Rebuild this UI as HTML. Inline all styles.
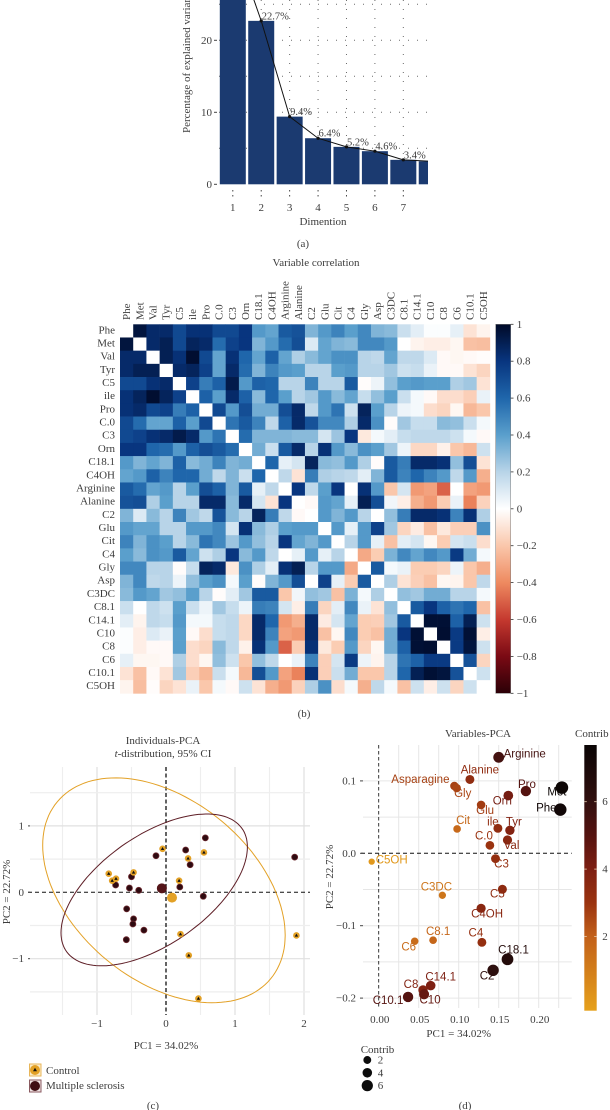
<!DOCTYPE html>
<html lang="en">
<head>
<meta charset="utf-8">
<title>PCA figure</title>
<style>
html,body{margin:0;padding:0;background:#fff;width:610px;height:1110px;overflow:hidden}
svg{display:block;filter:blur(0.35px)}
text{font-family:"Liberation Serif",serif;fill:#3c3c3c;font-size:11px}
.sans{font-family:"Liberation Sans",sans-serif}
</style>
</head>
<body>
<svg id="fig" xmlns="http://www.w3.org/2000/svg" width="610" height="1110" viewBox="0 0 610 1110">
  <defs>
    <clipPath id="clipA"><rect x="218" y="0" width="210" height="186"/></clipPath>
    <linearGradient id="gradB" x1="0" y1="0" x2="0" y2="1"></linearGradient>
    <linearGradient id="gradD" x1="0" y1="0" x2="0" y2="1"></linearGradient>
  </defs>
  <g id="panelA">
    <text transform="translate(190,133) rotate(-90)" font-size="11">Percentage of explained variances</text>
    <text x="323" y="225" text-anchor="middle">Dimention</text>
    <text x="303" y="247" text-anchor="middle">(a)</text>
  </g>
  <g id="panelB">
    <text x="316" y="266" text-anchor="middle">Variable correlation</text>
    <text x="304" y="717" text-anchor="middle">(b)</text>
  </g>
  <g id="panelC">
    <text x="163" y="744" text-anchor="middle">Individuals-PCA</text>
    <text x="163" y="757" text-anchor="middle"><tspan font-style="italic">t</tspan>-distribution, 95% CI</text>
    <text transform="translate(10,892) rotate(-90)" text-anchor="middle">PC2 = 22.72%</text>
    <text x="166" y="1049" text-anchor="middle">PC1 = 34.02%</text>
    <g>
      <rect x="29.5" y="1064" width="11.5" height="12" fill="#fbeccb" stroke="#e8b65a" stroke-width="1"/>
      <circle cx="35" cy="1070" r="5" fill="#e3a126"/>
      <path d="M35 1067.8 L37 1071.2 L33 1071.2 Z" fill="#111"/>
      <text x="46" y="1074" font-size="11">Control</text>
    </g>
    <g>
      <rect x="29.5" y="1080" width="11.5" height="12" fill="#f0e4e4" stroke="#8a5a60" stroke-width="1"/>
      <circle cx="35" cy="1086" r="5" fill="#3f0f14"/>
      <text x="46" y="1089" font-size="11">Multiple sclerosis</text>
    </g>
    <text x="153" y="1109" text-anchor="middle">(c)</text>
  </g>
  <g id="panelD">
    <text x="478" y="737" text-anchor="middle">Variables-PCA</text>
    <text x="575" y="737">Contrib</text>
    <text transform="translate(333,877) rotate(-90)" text-anchor="middle">PC2 = 22.72%</text>
    <text x="458.7" y="1037" text-anchor="middle">PC1 = 34.02%</text>
    <text x="360.7" y="1053">Contrib</text>
    <text x="465" y="1109" text-anchor="middle">(d)</text>
  </g>
</svg>
<script>
/* ---------- Panel A data ---------- */
const screeDims = [1, 2, 3, 4, 5, 6, 7, 8];
const screeValues = [34.0, 22.7, 9.4, 6.4, 5.2, 4.6, 3.4, 3.2];
const screeTicks = [0, 10, 20];
const screeGrid = [5, 10, 15, 20, 25];
/* ---------- Panel B data ---------- */
const heatLabels = ["Phe","Met","Val","Tyr","C5","ile","Pro","C.0","C3","Orn","C18.1","C4OH","Arginine","Alanine","C2","Glu","Cit","C4","Gly","Asp","C3DC","C8.1","C14.1","C10","C8","C6","C10.1","C5OH"];
const heatUpper = [
[1,.95,.85,.85,.72,.82,.82,.72,.72,.8,.42,.38,.65,.68,.32,.42,.5,.4,.48,.32,.3,.15,.08,.01,.01,.07,-.1,-.04],
[1,.85,.9,.72,.88,.85,.58,.75,.8,.32,.42,.58,.7,.1,.38,.32,.3,.48,.48,.42,0,-.04,-.06,-.06,-.03,-.22,-.23],
[1,.9,.82,.98,.72,.38,.82,.6,.38,.62,.38,.22,.3,.38,.45,.45,.2,.18,.38,.18,.18,.1,-.02,-.03,-.02,-.01],
[1,.85,.88,.75,.38,.85,.58,.32,.5,.42,.4,.2,.2,.4,.42,.2,.2,.25,.14,.16,.06,-.02,-.02,-.1,-.15],
[1,.75,.52,.62,.92,.42,.62,.6,.2,.2,.5,.2,.2,.65,-.01,.05,.28,.4,.42,.4,.4,.22,.25,-.1],
[1,.62,.4,.85,.62,.3,.6,.4,.2,.25,.42,.3,.38,.16,.28,.4,.15,.03,-.02,-.12,-.12,-.17,.06],
[1,.72,.42,.7,.35,.35,.7,.85,.18,.42,.55,.14,.88,.4,.2,.05,.03,-.12,-.15,-.03,-.25,-.2],
[1,.55,.65,.5,.18,.62,.85,.68,.48,.48,.22,.85,.45,-.01,.25,.16,.16,.3,.28,.15,.03],
[1,.58,.32,.32,.32,.3,.3,.12,.26,.8,-.08,.03,.08,.16,.18,.18,.18,.14,.03,-.02],
[1,.35,.15,.65,.85,.2,.82,.42,.3,.45,.4,.25,.05,-.14,-.14,-.05,-.2,-.25,.14],
[1,.6,.07,.12,.88,.3,.28,.42,.22,-.01,.65,.52,.85,.85,.82,.28,.7,-.1],
[1,.18,-.1,.52,.22,.2,.18,.08,.32,.65,.5,.6,.5,.42,.18,.42,-.28],
[1,.8,.18,.4,.8,0,.82,.42,-.2,.12,-.35,-.32,-.5,0,-.32,-.35],
[1,-.02,.42,.38,.07,.9,.7,.04,-.06,-.28,-.35,-.18,.06,-.42,-.16],
[1,.42,.32,.42,.2,0,.28,.52,.85,.85,.82,.5,.82,.22],
[1,.42,.07,.42,.75,.25,-.15,-.07,-.22,-.08,-.17,-.17,.45],
[1,.2,.42,.07,-.22,.08,.12,-.03,-.18,.12,.15,-.12],
[1,-.3,-.18,.33,.48,.38,.48,.42,.78,.35,.03],
[1,.65,.03,.06,-.18,-.18,-.15,.05,-.2,-.28],
[1,.22,-.1,-.17,-.22,-.03,-.04,-.2,.18],
[1,.28,.25,.35,.35,.2,.2,.03],
[1,.65,.8,.62,.55,.6,-.22],
[1,.97,.97,.62,.9,.14],
[1,.98,.78,.97,-.06],
[1,.78,.95,.14],
[1,.68,-.15],
[1,.14],
[1]
];
const heatScaleTicks = [1, 0.8, 0.6, 0.4, 0.2, 0, -0.2, -0.4, -0.6, -0.8, -1];
/* ---------- Panel C data ---------- */
const controlX = [-0.83,-0.78,-0.725,-0.47,-0.05,0.32,0.55,0.19,0.21,0.33,0.47,1.89];
const controlY = [0.28,0.175,0.205,0.30,0.655,0.51,0.60,0.175,-0.63,-0.95,-1.60,-0.65];
const msX = [0.57,0.285,-0.145,0.35,1.865,-0.50,-0.73,-0.53,-0.395,0.20,0.54,-0.57,-0.47,-0.48,-0.32,-0.575];
const msY = [0.82,0.637,0.55,0.415,0.53,0.235,0.11,0.065,0.03,0.08,-0.06,-0.25,-0.40,-0.477,-0.57,-0.714];
const controlMean = [0.087, -0.08];
const msMean = [-0.06, 0.06];
const controlEllipse = [-0.03, 0.03, 1.757, 1.693, -0.40];
const msEllipse = [-0.171, 0.036, 1.351, 1.143, 0.565];
const indXTicks = [-1, 0, 1, 2];
const indYTicks = [1, 0, -1];
const indXGrid = [-1.5, -1, -0.5, 0.5, 1, 1.5, 2];
const indYGrid = [1.5, 1, 0.5, -0.5, -1, -1.5];
/* ---------- Panel D data ---------- */
const varNames = ["Arginine","Alanine","Asparagine","Gly","Pro","Orn","Glu","Met","Phe","Cit","ile","Tyr","C.0","Val","C3","C5OH","C5","C3DC","C4OH","C6","C8.1","C4","C18.1","C2","C14.1","C8","C10","C10.1"];
const varPC1 = [.150,.114,.0946,.0975,.184,.162,.128,.229,.227,.098,.149,.164,.139,.161,.146,-.00875,.1546,.0796,.128,.045,.068,.129,.161,.143,.065,.0554,.0567,.0367];
const varPC2 = [.1326,.102,.093,.09,.086,.0797,.0668,.0907,.0603,.0336,.0345,.0318,.011,.0184,-.0074,-.0115,-.0497,-.058,-.076,-.1215,-.120,-.123,-.1464,-.1616,-.1828,-.1888,-.1948,-.1984];
const varContrib = [5.5,3.3,2.7,2.6,5,4.2,2.8,7.6,7.4,1.7,3.3,3.8,3,3.6,3.2,0.1,3.4,1.3,3.6,1.6,1.8,3.2,6.6,6.2,4,3.8,4.6,5];
const varXTicks = [0, 0.05, 0.10, 0.15, 0.20];
const varYTicks = [0.1, 0, -0.1, -0.2];
const varXGrid = [0.025,0.05,0.075,0.10,0.125,0.15,0.175,0.20,0.225];
const varYGrid = [0.1,0.05,-0.05,-0.1,-0.15,-0.2];
const contribTicks = [6, 4, 2];
const sizeLegend = [2, 4, 6];
/* layout-only label nudges for the repelled labels in panel D (px from each point) */
const labelNudgeX = [26,10,-34,6,1,-6,4,-5,-14,6,-5,4,-6,4,6,20,-5,-6,6,-6,5,-6,6,-6,10,-12,6,-20];
const labelNudgeY = [0,-6,-3,9,-3,9,9,8,2,-5,-3,-5,-6,9,9,2,8,-5,9,9,-5,-6,-6,9,-5,-2,9,7];

const NS = 'http://www.w3.org/2000/svg';
function el(parent, tag, attrs, txt) {
  const e = document.createElementNS(NS, tag);
  for (const k in attrs) e.setAttribute(k, attrs[k]);
  if (txt !== undefined) e.textContent = txt;
  parent.appendChild(e);
  return e;
}
function lerpColor(stops, v) {
  if (v <= stops[0][0]) return stops[0][1];
  for (let i = 1; i < stops.length; i++) {
    if (v <= stops[i][0]) {
      const t = (v - stops[i-1][0]) / (stops[i][0] - stops[i-1][0]);
      const a = stops[i-1][1], b = stops[i][1], c = [];
      for (let k = 0; k < 3; k++) {
        const p = parseInt(a.substr(1 + k*2, 2), 16), q = parseInt(b.substr(1 + k*2, 2), 16);
        c.push(Math.round(p + (q - p) * t));
      }
      return 'rgb(' + c.join(',') + ')';
    }
  }
  return stops[stops.length-1][1];
}
function fmtMinus(s) { return String(s).replace('-', '\u2212'); }

/* ---------- Panel A ---------- */
(function () {
  const g = document.getElementById('panelA');
  const xA = d => 232.8 + 28.42 * (d - 1);
  const yA = v => 184.3 - 7.2 * v;
  const clip = el(g, 'g', {'clip-path': 'url(#clipA)'});
  
  
  screeGrid.forEach(v => {
    const l = el(clip, 'line', {x1: 219, x2: 428, y1: yA(v), y2: yA(v), stroke: '#6a6a6a', 'stroke-width': 1, 'stroke-dasharray': '1 8'});
    
    
  });
  screeDims.forEach(d => {
    const l = el(clip, 'line', {x1: xA(d), x2: xA(d), y1: 0, y2: 184, stroke: '#6a6a6a', 'stroke-width': 1, 'stroke-dasharray': '1 8'});
    
    
  });
  screeDims.forEach((d, i) => {
    const b = el(clip, 'rect', {x: xA(d) - 13, y: yA(screeValues[i]), width: 26, height: yA(0) - yA(screeValues[i]), fill: '#1b3a70'});
    
    
  });
  const pts = screeDims.map((d, i) => xA(d) + ',' + yA(screeValues[i])).join(' ');
  const line = el(clip, 'polyline', {points: pts, fill: 'none', stroke: '#111', 'stroke-width': 1});
  
  
  screeDims.forEach((d, i) => {
    const p = el(clip, 'circle', {cx: xA(d), cy: yA(screeValues[i]), r: 1.6, fill: '#111'});
    
    
  });
  screeDims.slice(0, 7).forEach((d, i) => {
    const t = el(g, 'text', {x: xA(d) + 0.5, y: yA(screeValues[i]) - 1.5, style: 'font-size:10.5px'}, screeValues[i].toFixed(1) + '%');
    
    
  });
  screeDims.slice(0, 7).forEach(d => {
    const tk = el(g, 'line', {x1: xA(d), x2: xA(d), y1: 190, y2: 198, stroke: '#444', 'stroke-width': 1, 'stroke-dasharray': '1.5 3.5'});
    
    
    const t = el(g, 'text', {x: xA(d), y: 211, 'text-anchor': 'middle'}, d);
    
    
  });
  screeTicks.forEach(v => {
    const tk = el(g, 'line', {x1: 214, x2: 217, y1: yA(v), y2: yA(v), stroke: '#444', 'stroke-width': 1});
    
    
    const t = el(g, 'text', {x: 212, y: yA(v) + 3.5, 'text-anchor': 'end'}, v);
    
    
  });
})();

/* ---------- Panel B ---------- */
(function () {
  const g = document.getElementById('panelB');
  const stops = [[-1,'#2b0007'],[-0.8,'#7a0a14'],[-0.6,'#c5392f'],[-0.4,'#ee8a60'],[-0.2,'#fac7ab'],[0,'#ffffff'],[0.2,'#b8d4e8'],[0.4,'#5a9fcc'],[0.6,'#1f66ab'],[0.8,'#08357f'],[1,'#000a28']];
  const xB = i => 120 + 13.21 * i;
  const yB = i => 324.3 + 13.18 * i;
  const val = (r, c) => r <= c ? heatUpper[r][c - r] : heatUpper[c][r - c];
  heatLabels.forEach((name, r) => {
    heatLabels.forEach((n2, c) => {
      const fill = r === c ? '#ffffff' : lerpColor(stops, val(r, c));
      const cell = el(g, 'rect', {x: xB(c), y: yB(r), width: 13.5, height: 13.5, fill: fill});
      
      
    });
    const ry = el(g, 'text', {x: 115, y: yB(r) + 9, 'text-anchor': 'end'}, name);
    
    
    const cx = xB(r) + 6.6 + 3.5;
    const rx = el(g, 'text', {transform: 'translate(' + cx + ',320) rotate(-90)'}, name);
    
    
  });
  const grad = document.getElementById('gradB');
  stops.slice().reverse().forEach(s => {
    el(grad, 'stop', {offset: ((1 - s[0]) / 2 * 100) + '%', 'stop-color': s[1]});
  });
  const yS = v => 324.3 + (1 - v) / 2 * 369;
  const bar = el(g, 'rect', {x: 495.7, y: 324.3, width: 15, height: 369, fill: 'url(#gradB)', stroke: '#777', 'stroke-width': 0.5});
  
  
  heatScaleTicks.forEach(v => {
    const tk = el(g, 'line', {x1: 510.7, x2: 513.5, y1: yS(v), y2: yS(v), stroke: '#333', 'stroke-width': 0.8});
    
    
    const t = el(g, 'text', {x: 516.7, y: yS(v) + 3.5}, fmtMinus(v));
    
    
  });
})();

/* ---------- Panel C ---------- */
(function () {
  const g = document.getElementById('panelC');
  const xC = v => 166 + 69 * v;
  const yC = v => 892.3 - 66.4 * v;
  indXGrid.forEach(v => {
    const l = el(g, 'line', {x1: xC(v), x2: xC(v), y1: 767, y2: 1015, stroke: Number.isInteger(v) ? '#e0e0e0' : '#eeeeee', 'stroke-width': 1.2});
    
    
  });
  indYGrid.forEach(v => {
    const l = el(g, 'line', {x1: 30, x2: 310, y1: yC(v), y2: yC(v), stroke: Number.isInteger(v) ? '#e0e0e0' : '#eeeeee', 'stroke-width': 1.2});
    
    
  });
  const h0 = el(g, 'line', {x1: 28, x2: 310, y1: yC(0), y2: yC(0), stroke: '#111', 'stroke-width': 1, 'stroke-dasharray': '4 3'});
  
  
  const v0 = el(g, 'line', {x1: xC(0), x2: xC(0), y1: 767, y2: 1015, stroke: '#111', 'stroke-width': 1.3, 'stroke-dasharray': '4 2.5'});
  
  
  function ellipsePath(p) {
    let d = '';
    for (let k = 0; k <= 140; k++) {
      const t = k / 140 * Math.PI * 2;
      const x = p[0] + p[2] * Math.cos(t);
      const y = p[1] + p[3] * (p[4] * Math.cos(t) + Math.sqrt(1 - p[4] * p[4]) * Math.sin(t));
      d += (k ? 'L' : 'M') + xC(x).toFixed(1) + ' ' + yC(y).toFixed(1);
    }
    return d + 'Z';
  }
  const e1 = el(g, 'path', {d: ellipsePath(controlEllipse), fill: 'none', stroke: '#e3a126', 'stroke-width': 1});
  
  
  const e2 = el(g, 'path', {d: ellipsePath(msEllipse), fill: 'none', stroke: '#5e1e26', 'stroke-width': 1});
  
  
  msX.forEach((x, i) => {
    const p = el(g, 'circle', {cx: xC(x), cy: yC(msY[i]), r: 3, fill: '#2e0a10', stroke: '#6e2a30', 'stroke-width': 0.8});
    
    
  });
  controlX.forEach((x, i) => {
    const px = xC(x), py = yC(controlY[i]);
    const p = el(g, 'circle', {cx: px, cy: py, r: 3.3, fill: '#e3a126'});
    
    
    const t = el(g, 'path', {d: 'M' + px + ' ' + (py - 1.8) + 'L' + (px + 1.7) + ' ' + (py + 1.2) + 'L' + (px - 1.7) + ' ' + (py + 1.2) + 'Z', fill: '#111'});
    
    
  });
  const m1 = el(g, 'circle', {cx: xC(msMean[0]), cy: yC(msMean[1]), r: 5, fill: '#541519'});
  
  
  const m2 = el(g, 'circle', {cx: xC(controlMean[0]), cy: yC(controlMean[1]), r: 5, fill: '#e3a126'});
  
  
  indXTicks.forEach(v => {
    const t = el(g, 'text', {x: xC(v), y: 1027, 'text-anchor': 'middle'}, fmtMinus(v));
    
    
  });
  indYTicks.forEach(v => {
    const t = el(g, 'text', {x: 24, y: yC(v) + 3.5, 'text-anchor': 'end'}, fmtMinus(v));
    
    
    const tk = el(g, 'line', {x1: 28, x2: 30, y1: yC(v), y2: yC(v), stroke: '#444', 'stroke-width': 1});
    
    
  });
})();

/* ---------- Panel D ---------- */
(function () {
  const g = document.getElementById('panelD');
  const xD = v => 378.7 + 800 * v;
  const yD = v => 853.3 - 724 * v;
  const stops = [[-0.2,'#e6a11b'],[2,'#c2601a'],[3,'#9a3310'],[4,'#7d1f12'],[5,'#551310'],[6,'#32100f'],[7.68,'#0a0505']];
  const colorOf = c => lerpColor(stops, c);
  const rOf = c => 3.1 + 0.42 * c;
  varXGrid.forEach(v => {
    const l = el(g, 'line', {x1: xD(v), x2: xD(v), y1: 745, y2: 1008, stroke: '#e6e6e6', 'stroke-width': 1});
    
    
  });
  varYGrid.forEach(v => {
    const l = el(g, 'line', {x1: 363, x2: 571.7, y1: yD(v), y2: yD(v), stroke: '#e6e6e6', 'stroke-width': 1});
    
    
  });
  const h0 = el(g, 'line', {x1: 361, x2: 571.7, y1: yD(0), y2: yD(0), stroke: '#111', 'stroke-width': 1, 'stroke-dasharray': '4 3'});
  
  
  const v0 = el(g, 'line', {x1: xD(0), x2: xD(0), y1: 745, y2: 1008, stroke: '#222', 'stroke-width': 0.9, 'stroke-dasharray': '3.5 2.5'});
  
  
  varNames.forEach((n, i) => {
    const p = el(g, 'circle', {cx: xD(varPC1[i]), cy: yD(varPC2[i]), r: rOf(varContrib[i]), fill: colorOf(varContrib[i])});
    
    
  });
  varNames.forEach((n, i) => {
    const t = el(g, 'text', {class: 'sans', x: xD(varPC1[i]) + labelNudgeX[i], y: yD(varPC2[i]) + labelNudgeY[i], 'text-anchor': 'middle', style: 'font-size:11.5px;fill:' + colorOf(varContrib[i]) + ';font-family:\'Liberation Sans\',sans-serif'}, n);
    
    
  });
  varXTicks.forEach(v => {
    const t = el(g, 'text', {x: xD(v) + 1, y: 1023, 'text-anchor': 'middle'}, v.toFixed(2));
    
    
  });
  varYTicks.forEach(v => {
    const t = el(g, 'text', {x: 356, y: yD(v) + 3.5, 'text-anchor': 'end'}, fmtMinus(v.toFixed(1)));
    
    
    const tk = el(g, 'line', {x1: 360, x2: 363, y1: yD(v), y2: yD(v), stroke: '#444', 'stroke-width': 1});
    
    
  });
  const grad = document.getElementById('gradD');
  stops.slice().reverse().forEach(s => {
    el(grad, 'stop', {offset: ((7.68 - s[0]) / 7.88 * 100) + '%', 'stop-color': s[1]});
  });
  const yC2 = c => 801.7 + (6 - c) * 33.7;
  const bar = el(g, 'rect', {x: 584.3, y: 745, width: 12.4, height: 265.7, fill: 'url(#gradD)'});
  
  
  contribTicks.forEach(c => {
    const a = el(g, 'line', {x1: 584.3, x2: 586.8, y1: yC2(c), y2: yC2(c), stroke: '#e8d0b0', 'stroke-width': 0.8});
    
    
    const b = el(g, 'line', {x1: 594.2, x2: 596.7, y1: yC2(c), y2: yC2(c), stroke: '#e8d0b0', 'stroke-width': 0.8});
    
    
    const t = el(g, 'text', {x: 605, y: yC2(c) + 3.5, 'text-anchor': 'middle'}, c);
    
    
  });
  sizeLegend.forEach((c, i) => {
    const cy = 1060 + i * 12.8;
    const p = el(g, 'circle', {cx: 367.3, cy: cy, r: rOf(c), fill: '#0c0c0c'});
    
    
    const t = el(g, 'text', {x: 377.7, y: cy + 3.5}, c);
    
    
  });
})();
</script>
</body>
</html>
